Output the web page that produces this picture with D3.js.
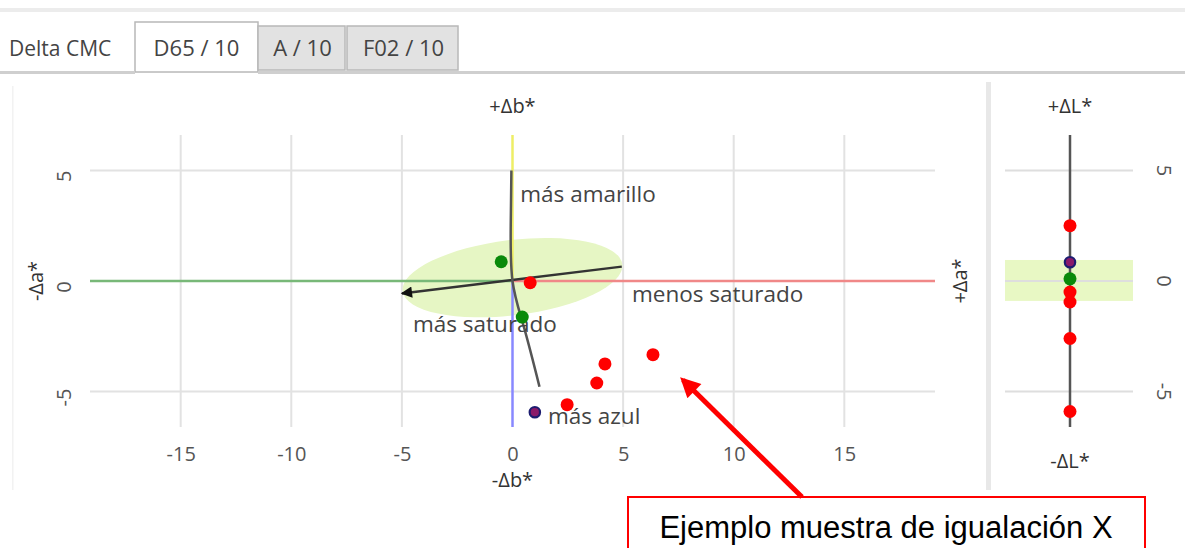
<!DOCTYPE html>
<html>
<head>
<meta charset="utf-8">
<script src="https://cdn.jsdelivr.net/npm/d3@7"></script>
<style>
  body { margin: 0; background: #fff; }
  svg { display: block; }
  .tick text { font-family: "Open Sans", sans-serif; fill: #555; }
</style>
</head>
<body>
<div id="chart"></div>
<script>
(() => {
  // tick values
  const xTicks = [-15, -10, -5, 0, 5, 10, 15];
  const yTicks = [-5, 0, 5];
  const tabs = ["D65 / 10", "A / 10", "F02 / 10"];

  // a*/b* plane samples
  const redDa = [0.8, 6.35, 4.18, 3.81, 2.47];
  const redDb = [-0.08, -3.33, -3.75, -4.61, -5.59];
  const greenDa = [-0.51, 0.44];
  const greenDb = [0.87, -1.63];
  const blueDa = [1.01];
  const blueDb = [-5.93];

  // lightness samples
  const redDL = [2.5, -0.5, -0.95, -2.6, -5.9];
  const greenDL = [0.1];
  const blueDL = [0.85];

  // hue arc and chroma direction
  const hueDa = [-0.05, -0.08, 0, 0.52, 1.22];
  const hueDb = [5.0, 2.5, 0, -2.1, -4.78];
  const chromaDa = [4.94, -5.0];
  const chromaDb = [0.65, -0.56];

  // tolerance (CMC ellipse + lightness band)
  const ellipseCenter = [0, 0.15];
  const ellipseRadii = [5.0, 1.7];
  const ellipseAngle = -7;
  const dLBand = [-0.9, 0.95];

  const font = "Open Sans, sans-serif";

  const svg = d3.select("#chart").append("svg")
    .attr("width", 1185)
    .attr("height", 548);

  svg.append("rect").attr("width", 1185).attr("height", 548).attr("fill", "#fff");

  // --- window chrome / tab bar ---
  svg.append("rect").attr("x", 0).attr("y", 8).attr("width", 1185).attr("height", 4).attr("fill", "#ececec");
  svg.append("text")
    .attr("x", 9).attr("y", 56)
    .attr("font-family", font).attr("font-size", 21)
    .attr("fill", "#444")
    .text("Delta CMC");

  const tabX = [135, 258, 347, 460];
  tabs.forEach((t, i) => {
    const sel = i === 0;
    svg.append("rect")
      .attr("x", tabX[i]).attr("y", sel ? 22 : 26)
      .attr("width", tabX[i + 1] - tabX[i] - (sel ? 0 : 2))
      .attr("height", sel ? 50 : 44)
      .attr("fill", sel ? "#fff" : "#e2e2e2")
      .attr("stroke", "#b8b8b8").attr("stroke-width", 1.5);
    svg.append("text")
      .attr("x", (tabX[i] + tabX[i + 1]) / 2).attr("y", 56)
      .attr("text-anchor", "middle")
      .attr("font-family", font).attr("font-size", 22)
      .attr("fill", "#444")
      .text(t);
  });
  svg.append("rect").attr("x", 0).attr("y", 71).attr("width", 135).attr("height", 3).attr("fill", "#cfcfcf");
  svg.append("rect").attr("x", 258).attr("y", 71).attr("width", 927).attr("height", 3).attr("fill", "#cfcfcf");

  // panel borders
  svg.append("rect").attr("x", 12).attr("y", 86).attr("width", 1.5).attr("height", 404).attr("fill", "#f2f2f2");
  svg.append("rect").attr("x", 986).attr("y", 82).attr("width", 5).attr("height", 408).attr("fill", "#e8e8e8");

  // --- scales ---
  const x = d3.scaleLinear().domain([-19.1, 19.1]).range([90, 935]);
  const y = d3.scaleLinear().domain([-6.6, 6.6]).range([427, 135]);
  const xL = 1070;
  const bandX = [1005, 1133];

  const main = svg.append("g");

  // grid
  main.selectAll(".vgrid").data(xTicks.filter(d => d !== 0)).join("line")
    .attr("x1", d => x(d)).attr("x2", d => x(d))
    .attr("y1", y(6.6)).attr("y2", y(-6.6))
    .attr("stroke", "#e2e2e2").attr("stroke-width", 2);
  main.selectAll(".hgrid").data(yTicks.filter(d => d !== 0)).join("line")
    .attr("x1", x(-19.1)).attr("x2", x(19.1))
    .attr("y1", d => y(d)).attr("y2", d => y(d))
    .attr("stroke", "#e2e2e2").attr("stroke-width", 2);

  // tolerance ellipse
  main.append("ellipse")
    .attr("cx", 0).attr("cy", 0)
    .attr("rx", x(ellipseRadii[0]) - x(0))
    .attr("ry", y(0) - y(ellipseRadii[1]))
    .attr("transform", `translate(${x(ellipseCenter[0])},${y(ellipseCenter[1])}) rotate(${ellipseAngle})`)
    .attr("fill", "#e6f6c4");

  // colored semi-axes
  const axes = [
    { x1: 0, y1: 0, x2: 0, y2: 6.6, c: "#eeee66" },
    { x1: 0, y1: 0, x2: 0, y2: -6.6, c: "#8888ff" },
    { x1: -19.1, y1: 0, x2: 0, y2: 0, c: "#78b878" },
    { x1: 0, y1: 0, x2: 19.1, y2: 0, c: "#f08888" }
  ];
  main.selectAll(".semi").data(axes).join("line")
    .attr("x1", d => x(d.x1)).attr("y1", d => y(d.y1))
    .attr("x2", d => x(d.x2)).attr("y2", d => y(d.y2))
    .attr("stroke", d => d.c).attr("stroke-width", 2.5);

  // arrow marker
  svg.append("defs").append("marker")
    .attr("id", "arrow")
    .attr("viewBox", "0 0 10 10")
    .attr("refX", 9).attr("refY", 5)
    .attr("markerWidth", 6.5).attr("markerHeight", 4.5)
    .attr("markerUnits", "strokeWidth")
    .attr("orient", "auto")
    .append("path").attr("d", "M0,0 L10,5 L0,10 z").attr("fill", "#111");

  // chroma line
  main.append("line")
    .attr("x1", x(chromaDa[0])).attr("y1", y(chromaDb[0]))
    .attr("x2", x(chromaDa[1])).attr("y2", y(chromaDb[1]))
    .attr("stroke", "#333").attr("stroke-width", 2.5)
    .attr("marker-end", "url(#arrow)");

  // hue arc
  const hueLine = d3.line()
    .x(d => x(d[0])).y(d => y(d[1]))
    .curve(d3.curveNatural);
  main.append("path")
    .attr("d", hueLine(hueDa.map((a, i) => [a, hueDb[i]])))
    .attr("fill", "none").attr("stroke", "#555").attr("stroke-width", 2.5);

  // direction labels
  const labels = [
    { t: "más amarillo", a: 0.35, b: 3.55 },
    { t: "menos saturado", a: 5.4, b: -0.95 },
    { t: "más saturado", a: -4.5, b: -2.3 },
    { t: "más azul", a: 1.6, b: -6.45 }
  ];
  main.selectAll(".dirlab").data(labels).join("text")
    .attr("x", d => x(d.a)).attr("y", d => y(d.b))
    .attr("font-family", font).attr("font-size", 22.5)
    .attr("fill", "#444")
    .text(d => d.t);

  // sample points
  const drawPts = (g, xs, ys, fill, stroke) => {
    g.selectAll(null).data(xs.map((v, i) => [v, ys[i]])).join("circle")
      .attr("cx", d => d[0])
      .attr("cy", d => d[1])
      .attr("r", stroke === "none" ? 6.5 : 5.2)
      .attr("fill", fill)
      .attr("stroke", stroke).attr("stroke-width", stroke === "none" ? 0 : 2.2);
  };
  drawPts(main, redDa.map(x), redDb.map(y), "#ff0000", "none");
  drawPts(main, greenDa.map(x), greenDb.map(y), "#0a8a0a", "none");
  drawPts(main, blueDa.map(x), blueDb.map(y), "#8a1a6a", "#1c1c70");

  // axis end labels
  const axLab = (t, px, py, rot) => svg.append("text")
    .attr("transform", `translate(${px},${py}) rotate(${rot})`)
    .attr("text-anchor", "middle").attr("dominant-baseline", "middle")
    .attr("font-family", font).attr("font-size", 20)
    .attr("fill", "#333")
    .text(t);
  axLab("+Δb*", x(0), 108, 0);
  axLab("-Δb*", x(0), 482, 0);
  axLab("-Δa*", 38, y(0), -90);
  axLab("+Δa*", 962, y(0), -90);
  axLab("+ΔL*", xL, 108, 0);
  axLab("-ΔL*", xL, 463, 0);

  // x tick labels
  const xAxis = svg.append("g")
    .attr("transform", "translate(0,445)")
    .call(d3.axisBottom(x).tickValues(xTicks).tickSize(0).tickPadding(2).tickFormat(d => String(d)));
  xAxis.select(".domain").remove();
  xAxis.selectAll("text").attr("font-size", 20);

  // y tick labels (rotated)
  svg.append("g").selectAll("text").data(yTicks).join("text")
    .attr("transform", d => `translate(66,${y(d) + 6}) rotate(-90)`)
    .attr("text-anchor", "middle").attr("dominant-baseline", "middle")
    .attr("font-family", font).attr("font-size", 20)
    .attr("fill", "#555")
    .text(d => String(d));

  // --- lightness panel ---
  const side = svg.append("g");
  side.append("rect")
    .attr("x", bandX[0]).attr("y", y(dLBand[1]))
    .attr("width", bandX[1] - bandX[0])
    .attr("height", y(dLBand[0]) - y(dLBand[1]))
    .attr("fill", "#e8f8c4");
  side.selectAll(".lgrid").data(yTicks).join("line")
    .attr("x1", bandX[0]).attr("x2", bandX[1])
    .attr("y1", d => y(d)).attr("y2", d => y(d))
    .attr("stroke", "#dedede").attr("stroke-width", 2);
  side.append("line")
    .attr("x1", xL).attr("x2", xL)
    .attr("y1", y(6.6)).attr("y2", y(-6.6))
    .attr("stroke", "#555").attr("stroke-width", 2.5);
  drawPts(side, redDL.map(() => xL), redDL.map(y), "#ff0000", "none");
  drawPts(side, greenDL.map(() => xL), greenDL.map(y), "#0a8a0a", "none");
  drawPts(side, blueDL.map(() => xL), blueDL.map(y), "#8a1a6a", "#1c1c70");

  side.selectAll(".ltick").data(yTicks).join("text")
    .attr("transform", d => `translate(1162,${y(d)}) rotate(90)`)
    .attr("text-anchor", "middle").attr("dominant-baseline", "middle")
    .attr("font-family", font).attr("font-size", 20)
    .attr("fill", "#555")
    .text(d => String(d));

  // --- annotation ---
  svg.append("rect")
    .attr("x", 628).attr("y", 497)
    .attr("width", 517).attr("height", 70)
    .attr("fill", "#fff").attr("stroke", "#ff0000").attr("stroke-width", 2);
  svg.append("text")
    .attr("x", 886).attr("y", 538)
    .attr("text-anchor", "middle")
    .attr("font-family", "Liberation Sans, Arial, sans-serif").attr("font-size", 31)
    .attr("fill", "#000")
    .text("Ejemplo muestra de igualación X");

  svg.append("defs").append("marker")
    .attr("id", "redArrow")
    .attr("viewBox", "0 0 10 10")
    .attr("refX", 8).attr("refY", 5)
    .attr("markerWidth", 4.5).attr("markerHeight", 4)
    .attr("markerUnits", "strokeWidth")
    .attr("orient", "auto")
    .append("path").attr("d", "M0,0 L10,5 L0,10 z").attr("fill", "#ff0000");
  svg.append("line")
    .attr("x1", 802).attr("y1", 497)
    .attr("x2", 683).attr("y2", 380)
    .attr("stroke", "#ff0000").attr("stroke-width", 5)
    .attr("marker-end", "url(#redArrow)");
})();
</script>
</body>
</html>
